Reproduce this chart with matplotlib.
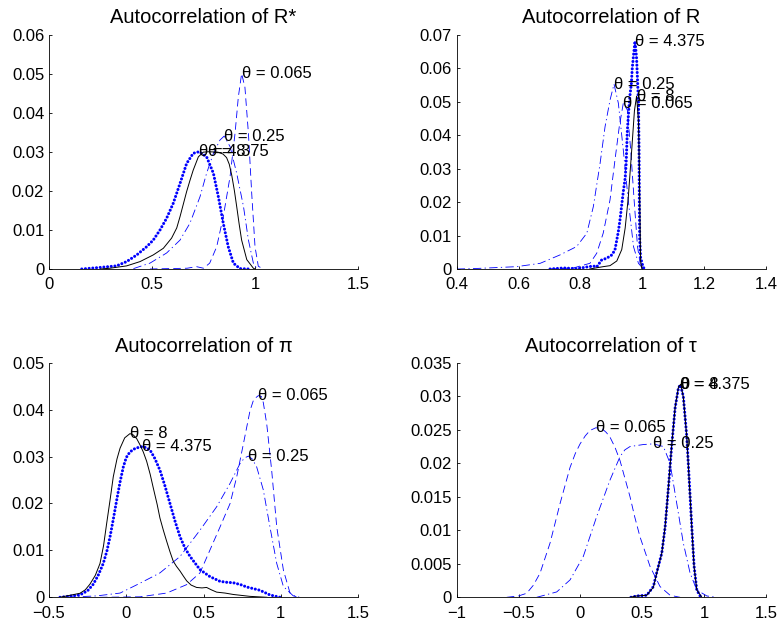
import matplotlib
matplotlib.use("Agg")
import matplotlib.pyplot as plt
from matplotlib.ticker import FuncFormatter
import numpy as np

plt.rcParams['font.family'] = ['Liberation Sans', 'DejaVu Sans']

# ---- Autocorrelation of R* ----
rstar_x_065 = [0.49, 0.67, 0.716, 0.75, 0.78, 0.814, 0.846, 0.879, 0.903, 0.919, 0.935, 0.951, 0.968, 0.984, 1.0, 1.016, 1.04]
rstar_y_065 = [0, 0.0002, 0.0006, 0.0002, 0.0015, 0.0057, 0.0134, 0.0237, 0.0347, 0.0440, 0.0500, 0.0465, 0.0347, 0.0193, 0.0057, 0.0007, 0]
rstar_x_25 = [0.41, 0.49, 0.571, 0.636, 0.684, 0.733, 0.765, 0.798, 0.83, 0.85, 0.879, 0.911, 0.944, 0.968, 0.992, 1.01]
rstar_y_25 = [0.0001, 0.0015, 0.0041, 0.0074, 0.0117, 0.0185, 0.0245, 0.0296, 0.0330, 0.0340, 0.0313, 0.0245, 0.0160, 0.0074, 0.0015, 0]
rstar_x_4375 = [0.159, 0.248, 0.328, 0.377, 0.426, 0.474, 0.506, 0.539, 0.571, 0.603, 0.636, 0.668, 0.70, 0.728, 0.765, 0.798, 0.822, 0.846, 0.87, 0.895, 0.927, 0.967]
rstar_y_4375 = [0, 0.0004, 0.0008, 0.0019, 0.0036, 0.0057, 0.0074, 0.0100, 0.0130, 0.0168, 0.0219, 0.0270, 0.0296, 0.0300, 0.0287, 0.0245, 0.0185, 0.0117, 0.0057, 0.0015, 0.0001, 0]
rstar_x_8 = [0.25, 0.296, 0.377, 0.442, 0.506, 0.555, 0.595, 0.62, 0.636, 0.652, 0.668, 0.685, 0.70, 0.725, 0.749, 0.773, 0.82, 0.845, 0.862, 0.875, 0.887, 0.90, 0.911, 0.923, 0.935, 0.96, 0.992, 1.0]
rstar_y_8 = [0, 0.0002, 0.0008, 0.0019, 0.0036, 0.0053, 0.0079, 0.0105, 0.0134, 0.0166, 0.0198, 0.0228, 0.0253, 0.0287, 0.0299, 0.0300, 0.0299, 0.0294, 0.0285, 0.0268, 0.0240, 0.0200, 0.0160, 0.0115, 0.0074, 0.0024, 0.0002, 0]

# ---- Autocorrelation of R ----
r_x_065 = [0.70, 0.777, 0.831, 0.853, 0.874, 0.896, 0.912, 0.926, 0.939, 0.952, 0.963, 0.974, 0.985, 0.995, 1.004]
r_y_065 = [0, 0.0003, 0.0017, 0.0047, 0.0107, 0.0206, 0.0325, 0.0425, 0.0495, 0.0475, 0.0355, 0.0206, 0.0067, 0.0007, 0]
r_x_25 = [0.40, 0.45, 0.594, 0.67, 0.734, 0.788, 0.821, 0.842, 0.864, 0.88, 0.896, 0.909, 0.923, 0.939, 0.955, 0.972, 0.988, 1.004]
r_y_25 = [0, 0.0001, 0.0007, 0.0017, 0.0042, 0.0067, 0.0107, 0.0186, 0.0316, 0.0425, 0.0504, 0.0552, 0.0495, 0.0355, 0.0206, 0.0067, 0.0017, 0]
r_x_4375 = [0.702, 0.745, 0.79, 0.821, 0.842, 0.853, 0.869, 0.885, 0.902, 0.912, 0.918, 0.923, 0.929, 0.934, 0.939, 0.945, 0.948, 0.95, 0.952, 0.957, 0.961, 0.965, 0.968, 0.973, 0.977, 0.982, 0.988, 0.99, 0.991, 0.992, 0.995, 1.003, 1.008]
r_y_4375 = [0, 0.0003, 0.0001, 0.0006, 0.0009, 0.0006, 0.0027, 0.0032, 0.0042, 0.0057, 0.0087, 0.0112, 0.0152, 0.0192, 0.0231, 0.0271, 0.0311, 0.0360, 0.0410, 0.0480, 0.0522, 0.0552, 0.0599, 0.0646, 0.0680, 0.0629, 0.0500, 0.0355, 0.0203, 0.0093, 0.0034, 0.0006, 0]
r_x_8 = [0.83, 0.874, 0.896, 0.918, 0.934, 0.945, 0.955, 0.966, 0.975, 0.982, 0.988, 0.991, 0.993, 0.995, 0.999]
r_y_8 = [0, 0.0007, 0.0010, 0.0024, 0.0058, 0.0122, 0.0212, 0.0352, 0.0472, 0.0516, 0.0442, 0.0300, 0.0153, 0.0024, 0]

# ---- Autocorrelation of pi ----
pi_x_065 = [-0.17, 0.089, 0.261, 0.391, 0.477, 0.542, 0.607, 0.672, 0.715, 0.758, 0.801, 0.825, 0.855, 0.875, 0.887, 0.909, 0.941, 0.974, 1.017, 1.06, 1.103]
pi_y_065 = [0, 0.0001, 0.0009, 0.0027, 0.0052, 0.0101, 0.0150, 0.0200, 0.0257, 0.0327, 0.0398, 0.0422, 0.0430, 0.0428, 0.0415, 0.0370, 0.0271, 0.0150, 0.0058, 0.0009, 0]
pi_x_25 = [-0.386, -0.191, -0.04, 0.089, 0.218, 0.348, 0.477, 0.585, 0.672, 0.736, 0.765, 0.79, 0.815, 0.844, 0.887, 0.93, 0.974, 1.017, 1.081, 1.124]
pi_y_25 = [0, 0.0003, 0.0009, 0.0030, 0.0052, 0.0087, 0.0143, 0.0193, 0.0243, 0.0285, 0.0297, 0.0301, 0.0295, 0.0278, 0.0229, 0.0150, 0.0072, 0.0023, 0.0003, 0]
pi_x_4375 = [-0.429, -0.30, -0.25, -0.213, -0.18, -0.149, -0.125, -0.105, -0.083, -0.062, -0.04, -0.019, 0.0, 0.024, 0.06, 0.10, 0.13, 0.154, 0.185, 0.218, 0.25, 0.283, 0.315, 0.348, 0.38, 0.413, 0.477, 0.542, 0.607, 0.65, 0.693, 0.74, 0.779, 0.865, 0.93, 0.995]
pi_y_4375 = [0, 0.0005, 0.0014, 0.0028, 0.0048, 0.0072, 0.0099, 0.0129, 0.0168, 0.0207, 0.0246, 0.0278, 0.0298, 0.0310, 0.0318, 0.0321, 0.0319, 0.0314, 0.0296, 0.0271, 0.0238, 0.0200, 0.0163, 0.0129, 0.0105, 0.0087, 0.0059, 0.0044, 0.0034, 0.0032, 0.0031, 0.0027, 0.0022, 0.0015, 0.0005, 0]
pi_x_8 = [-0.429, -0.30, -0.265, -0.235, -0.2, -0.17, -0.147, -0.127, -0.105, -0.084, -0.06, -0.04, -0.01, 0.024, 0.046, 0.068, 0.089, 0.11, 0.132, 0.155, 0.175, 0.2, 0.218, 0.24, 0.261, 0.283, 0.304, 0.325, 0.348, 0.37, 0.391, 0.42, 0.455, 0.49, 0.52, 0.55, 0.585, 0.64, 0.693, 0.80, 0.91]
pi_y_8 = [0, 0.00085, 0.0016, 0.0028, 0.0047, 0.0072, 0.0110, 0.0157, 0.0207, 0.0257, 0.0295, 0.0318, 0.0340, 0.0349, 0.0346, 0.0338, 0.0325, 0.0310, 0.0290, 0.0262, 0.0233, 0.0198, 0.0169, 0.0143, 0.0120, 0.0097, 0.0077, 0.0066, 0.0056, 0.0045, 0.0035, 0.0026, 0.0021, 0.0020, 0.0021, 0.0016, 0.0011, 0.0009, 0.0006, 0.0002, 0]

# ---- Autocorrelation of tau ----
tau_x_065 = [-0.595, -0.5, -0.434, -0.38, -0.326, -0.245, -0.164, -0.083, -0.04, -0.002, 0.04, 0.078, 0.125, 0.173, 0.21, 0.24, 0.28, 0.321, 0.36, 0.402, 0.44, 0.483, 0.564, 0.645, 0.726, 0.807]
tau_y_065 = [0, 0.0002, 0.0006, 0.0018, 0.0036, 0.0081, 0.0140, 0.0194, 0.0215, 0.0229, 0.0241, 0.0249, 0.0253, 0.0252, 0.0246, 0.0239, 0.0224, 0.0204, 0.0178, 0.0150, 0.0120, 0.0090, 0.0046, 0.0016, 0.0003, 0]
tau_x_25 = [-0.353, -0.191, -0.083, 0.024, 0.133, 0.24, 0.321, 0.36, 0.402, 0.51, 0.591, 0.672, 0.726, 0.78, 0.833, 0.888, 0.942, 1.023, 1.104]
tau_y_25 = [0, 0.0008, 0.0026, 0.0061, 0.0121, 0.0175, 0.0210, 0.0220, 0.0225, 0.0228, 0.0229, 0.0225, 0.0200, 0.0140, 0.0081, 0.0036, 0.0011, 0.0002, 0]
tau_x_4375 = [0.41, 0.456, 0.537, 0.591, 0.618, 0.659, 0.686, 0.713, 0.74, 0.767, 0.794, 0.81, 0.833, 0.861, 0.882, 0.901, 0.92, 0.942, 0.975]
tau_y_4375 = [0, 0.0002, 0.0003, 0.0016, 0.0037, 0.0066, 0.0105, 0.0165, 0.0228, 0.0283, 0.0313, 0.0317, 0.0300, 0.0240, 0.0171, 0.0107, 0.0047, 0.0011, 0]
tau_x_8 = [0.402, 0.456, 0.537, 0.591, 0.618, 0.659, 0.686, 0.713, 0.74, 0.767, 0.794, 0.812, 0.833, 0.861, 0.882, 0.901, 0.92, 0.942, 0.983]
tau_y_8 = [0, 0.0002, 0.0003, 0.0015, 0.0036, 0.0066, 0.0106, 0.0166, 0.0229, 0.0284, 0.0314, 0.0318, 0.0299, 0.0239, 0.0170, 0.0106, 0.0046, 0.0011, 0]

titles = ['Autocorrelation of R*', 'Autocorrelation of R',
          'Autocorrelation of \u03c0', 'Autocorrelation of \u03c4']
theta_labels = ['0.065', '0.25', '4.375', '8']
xlims = [(0, 1.5), (0.4, 1.4), (-0.5, 1.5), (-1, 1.5)]
xtick_sets = [[0, 0.5, 1, 1.5], [0.4, 0.6, 0.8, 1.0, 1.2, 1.4],
              [-0.5, 0, 0.5, 1, 1.5], [-1, -0.5, 0, 0.5, 1, 1.5]]
ylims = [0.06, 0.07, 0.05, 0.035]
ystep = [0.01, 0.01, 0.01, 0.005]

panels = [
    [(rstar_x_065, rstar_y_065), (rstar_x_25, rstar_y_25), (rstar_x_4375, rstar_y_4375), (rstar_x_8, rstar_y_8)],
    [(r_x_065, r_y_065), (r_x_25, r_y_25), (r_x_4375, r_y_4375), (r_x_8, r_y_8)],
    [(pi_x_065, pi_y_065), (pi_x_25, pi_y_25), (pi_x_4375, pi_y_4375), (pi_x_8, pi_y_8)],
    [(tau_x_065, tau_y_065), (tau_x_25, tau_y_25), (tau_x_4375, tau_y_4375), (tau_x_8, tau_y_8)],
]

styles = [
    dict(color='blue', lw=0.6, linestyle=(0, (9, 5))),
    dict(color='blue', lw=0.6, linestyle=(0, (10, 4, 1.5, 4))),
    dict(color='blue', lw=2.2, linestyle=(0, (0.01, 1.2)), dash_capstyle='round'),
    dict(color='black', lw=0.7, linestyle='-'),
]

fmt = FuncFormatter(lambda v, p: ('%g' % round(v, 4)).replace('-', '\u2212'))

fig = plt.figure(figsize=(7.79, 6.24), dpi=100)
positions = [[0.0629, 0.5689, 0.3967, 0.3758], [0.5863, 0.5689, 0.3967, 0.3758],
             [0.0629, 0.0428, 0.3967, 0.3758], [0.5863, 0.0428, 0.3967, 0.3758]]

for i, curves in enumerate(panels):
    ax = fig.add_axes(positions[i])
    for (xs, ys), st in zip(curves, styles):
        ax.plot(xs, ys, **st)
    for (xs, ys), lab in zip(curves, theta_labels):
        k = int(np.argmax(ys))
        ax.text(xs[k], ys[k], '\u03b8 = ' + lab, ha='left', va='center', fontsize=12)
    ax.set_xlim(*xlims[i])
    ax.set_ylim(0, ylims[i])
    ax.set_xticks(xtick_sets[i])
    ax.set_yticks(np.arange(0, ylims[i] + 1e-9, ystep[i]))
    ax.xaxis.set_major_formatter(fmt)
    ax.yaxis.set_major_formatter(fmt)
    ax.spines['top'].set_visible(False)
    ax.spines['right'].set_visible(False)
    ax.spines['left'].set_linewidth(0.6)
    ax.spines['bottom'].set_linewidth(0.6)
    ax.tick_params(direction='in', length=2.2, width=0.6, labelsize=12)
    ax.tick_params(axis='x', pad=6)
    ax.tick_params(axis='y', pad=3.5)
    ax.set_title(titles[i], fontsize=14.5, pad=8)

fig.savefig('out.png', dpi=100)
